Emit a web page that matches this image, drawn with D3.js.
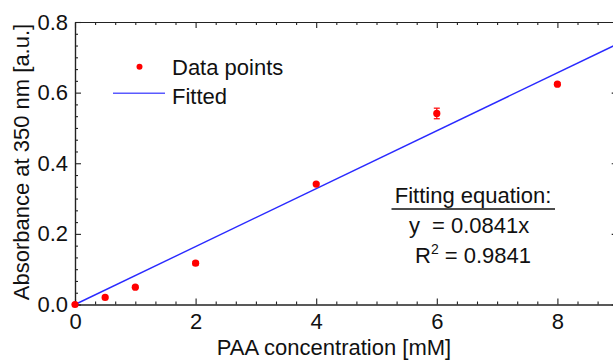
<!DOCTYPE html>
<html>
<head>
<meta charset="utf-8">
<script src="https://cdn.jsdelivr.net/npm/d3@7"></script>
<style>
  html, body { margin: 0; padding: 0; background: #fff; }
  svg { display: block; overflow: hidden; }
  text { font-family: "Liberation Sans", Arial, sans-serif; fill: #111; }
</style>
</head>
<body>
<div id="chart"></div>
<script>
// measured points (mean + error bar half-height)
var concentration = [0, 0.5, 1, 2, 4, 6, 8];
var absorbance = [0, 0.020, 0.049, 0.117, 0.341, 0.541, 0.624];
var errors = [0, 0.003, 0.003, 0.005, 0.003, 0.015, 0.004];

// fitted line, ends
var fitX = [0, 9];
var fitY = [0, 0.738];

var xTicks = [0, 2, 4, 6, 8];
var yTicks = [0, 0.2, 0.4, 0.6, 0.8];

var width = 613, height = 360;

var svg = d3.select('#chart').append('svg')
    .attr('width', width)
    .attr('height', height);

var x = d3.scaleLinear().domain([0, 9]).range([75, 617.7]);
var y = d3.scaleLinear().domain([0, 0.8]).range([304.5, 22]);

// minor tick values (5 between each major)
var xMinor = d3.range(0, 9.001, 1 / 3).filter(function (v) { return Math.abs(v / 2 - Math.round(v / 2)) > 0.01; });
var yMinor = d3.range(0, 0.8001, 0.2 / 6).filter(function (v) { return Math.abs(v / 0.2 - Math.round(v / 0.2)) > 0.01; });

function styleAxis(g) {
    g.selectAll('path.domain').attr('stroke', '#222').attr('stroke-width', 1.2);
    g.selectAll('.tick line').attr('stroke', '#222').attr('stroke-width', 1.1);
    g.selectAll('text').attr('font-size', 22).attr('fill', '#111')
        .attr('font-family', '"Liberation Sans", Arial, sans-serif');
}

// bottom
svg.append('g').attr('transform', 'translate(0,' + y(0) + ')')
    .call(d3.axisBottom(x).tickValues(xMinor).tickFormat('').tickSize(-3).tickSizeOuter(0))
    .call(styleAxis);
svg.append('g').attr('transform', 'translate(0,' + y(0) + ')')
    .call(d3.axisBottom(x).tickValues(xTicks).tickFormat(d3.format('d')).tickSize(-6).tickSizeOuter(0).tickPadding(9))
    .call(styleAxis);

// top
svg.append('g').attr('transform', 'translate(0,' + y(0.8) + ')')
    .call(d3.axisTop(x).tickValues(xMinor).tickFormat('').tickSize(-3).tickSizeOuter(0))
    .call(styleAxis);
svg.append('g').attr('transform', 'translate(0,' + y(0.8) + ')')
    .call(d3.axisTop(x).tickValues(xTicks).tickFormat('').tickSize(-6).tickSizeOuter(0))
    .call(styleAxis);

// left
svg.append('g').attr('transform', 'translate(' + x(0) + ',0)')
    .call(d3.axisLeft(y).tickValues(yMinor).tickFormat('').tickSize(-3).tickSizeOuter(0))
    .call(styleAxis);
svg.append('g').attr('transform', 'translate(' + x(0) + ',0)')
    .call(d3.axisLeft(y).tickValues(yTicks).tickFormat(d3.format('.1f')).tickSize(-6).tickSizeOuter(0).tickPadding(7))
    .call(styleAxis);

// right (mostly outside the picture)
svg.append('g').attr('transform', 'translate(' + x(9) + ',0)')
    .call(d3.axisRight(y).tickValues(yMinor).tickFormat('').tickSize(-3).tickSizeOuter(0))
    .call(styleAxis);
svg.append('g').attr('transform', 'translate(' + x(9) + ',0)')
    .call(d3.axisRight(y).tickValues(yTicks).tickFormat('').tickSize(-6).tickSizeOuter(0))
    .call(styleAxis);

// axis titles
svg.append('text')
    .attr('x', 334).attr('y', 355)
    .attr('text-anchor', 'middle')
    .attr('font-size', 22)
    .text('PAA concentration [mM]');

svg.append('text')
    .attr('transform', 'translate(29,162) rotate(-90)')
    .attr('text-anchor', 'middle')
    .attr('font-size', 22)
    .text('Absorbance at 350 nm [a.u.]');

// fitted line
var line = d3.line()
    .x(function (d) { return x(d[0]); })
    .y(function (d) { return y(d[1]); });

svg.append('path')
    .datum(d3.zip(fitX, fitY))
    .attr('d', line)
    .attr('fill', 'none')
    .attr('stroke', '#2a2aff')
    .attr('stroke-width', 1.4);

// error bars
var pts = d3.zip(concentration, absorbance, errors);
var eb = svg.append('g').attr('stroke', '#ff0000').attr('stroke-width', 1.2);
pts.forEach(function (p) {
    if (p[2] <= 0) return;
    var cx = x(p[0]);
    eb.append('line').attr('x1', cx).attr('x2', cx).attr('y1', y(p[1] - p[2])).attr('y2', y(p[1] + p[2]));
    eb.append('line').attr('x1', cx - 3).attr('x2', cx + 3).attr('y1', y(p[1] - p[2])).attr('y2', y(p[1] - p[2]));
    eb.append('line').attr('x1', cx - 3).attr('x2', cx + 3).attr('y1', y(p[1] + p[2])).attr('y2', y(p[1] + p[2]));
});

svg.append('g').selectAll('circle')
    .data(pts)
    .enter().append('circle')
    .attr('cx', function (d) { return x(d[0]); })
    .attr('cy', function (d) { return y(d[1]); })
    .attr('r', 3.6)
    .attr('fill', '#ff0000');

// legend
var legend = svg.append('g');
legend.append('circle').attr('cx', 139.5).attr('cy', 66.7).attr('r', 3).attr('fill', '#ff0000');
legend.append('text').attr('x', 172).attr('y', 75).attr('font-size', 22).text('Data points');
legend.append('line').attr('x1', 113).attr('x2', 165).attr('y1', 93.3).attr('y2', 93.3)
    .attr('stroke', '#5a5aff').attr('stroke-width', 1.4);
legend.append('text').attr('x', 172).attr('y', 103.5).attr('font-size', 22).text('Fitted');

// fitting equation box
var eq = svg.append('g').attr('font-size', 22);
var title = eq.append('text').attr('x', 473).attr('y', 203).attr('text-anchor', 'middle')
    .attr('font-size', 22).text('Fitting equation:');
eq.append('line').attr('x1', 391.5).attr('x2', 555).attr('y1', 209).attr('y2', 209)
    .attr('stroke', '#111').attr('stroke-width', 1.3);
var l2 = eq.append('text').attr('x', 409).attr('y', 233).attr('font-size', 22);
l2.append('tspan').text('y');
l2.append('tspan').attr('dx', 12).text('= 0.0841x');
var l3 = eq.append('text').attr('x', 415).attr('y', 263).attr('font-size', 22);
l3.append('tspan').text('R');
l3.append('tspan').attr('font-size', 14).attr('dy', -9).text('2');
l3.append('tspan').attr('dy', 9).text(' = 0.9841');
</script>
</body>
</html>
